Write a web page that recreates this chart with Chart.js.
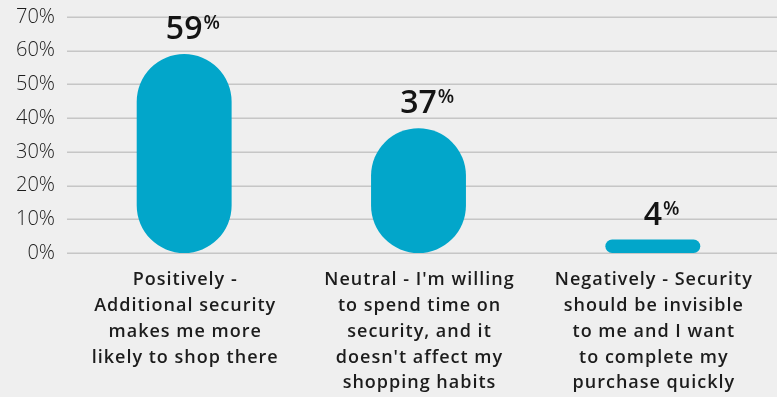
<!DOCTYPE html>
<html>
<head>
<meta charset="utf-8">
<script src="https://cdn.jsdelivr.net/npm/chart.js@4.4.1/dist/chart.umd.min.js"></script>
<style>
  html, body { margin: 0; padding: 0; background: #efefef; }
  #wrap { width: 777px; height: 397px; position: relative; }
</style>
</head>
<body>
<div id="wrap"><canvas id="securityChart"></canvas></div>
<script>
// Survey answers and their shares (%)
const categories = [
    ['Positively -', 'Additional security', 'makes me more', 'likely to shop there'],
    ['Neutral - I\'m willing', 'to spend time on', 'security, and it', 'doesn\'t affect my', 'shopping habits'],
    ['Negatively - Security', 'should be invisible', 'to me and I want', 'to complete my', 'purchase quickly']
];
const shares = [59, 37, 4];
const yMax = 70;
const yStep = 10;

const FONT = '"Open Sans", "Noto Sans", sans-serif';
const BAR_COLOR = '#02a6ca';
const TEXT_COLOR = '#1c1c1c';

// Horizontal grid lines running across to the right edge of the canvas
const gridLines = {
    id: 'gridLines',
    beforeDatasetsDraw(chart) {
        const { ctx, chartArea, scales } = chart;
        ctx.save();
        ctx.strokeStyle = '#c6c6c6';
        ctx.lineWidth = 1.5;
        for (let v = 0; v <= yMax; v += yStep) {
            const y = Math.round(scales.y.getPixelForValue(v)) + 0.25;
            ctx.beginPath();
            ctx.moveTo(chartArea.left, y);
            ctx.lineTo(chart.width, y);
            ctx.stroke();
        }
        ctx.restore();
    }
};

// Category names under the bars, drawn with a little extra tracking
const categoryLabels = {
    id: 'categoryLabels',
    afterDraw(chart) {
        const { ctx, chartArea, scales } = chart;
        ctx.save();
        ctx.font = '600 18px ' + FONT;
        ctx.letterSpacing = '1px';
        ctx.fillStyle = TEXT_COLOR;
        ctx.textAlign = 'center';
        ctx.textBaseline = 'middle';
        categories.forEach((lines, i) => {
            const x = scales.x.getPixelForTick(i) + 1;
            lines.forEach((line, j) => {
                ctx.fillText(line, x, chartArea.bottom + 27 + j * 25.8);
            });
        });
        ctx.restore();
    }
};

// Value labels above bars, with a small raised percent sign
const valueLabels = {
    id: 'valueLabels',
    afterDatasetsDraw(chart) {
        const { ctx } = chart;
        const meta = chart.getDatasetMeta(0);
        ctx.save();
        ctx.fillStyle = '#141414';
        ctx.textBaseline = 'alphabetic';
        ctx.textAlign = 'left';
        meta.data.forEach((bar, i) => {
            const num = String(shares[i]);
            const base = bar.y - 15;
            ctx.font = '600 32px ' + FONT;
            const w = ctx.measureText(num).width;
            ctx.fillText(num, bar.x - w / 2, base);
            ctx.font = '600 19px ' + FONT;
            ctx.fillText('%', bar.x + w / 2 + 1, base - 10);
        });
        ctx.restore();
    }
};

new Chart(document.getElementById('securityChart'), {
    type: 'bar',
    data: {
        labels: categories,
        datasets: [{
            data: shares,
            backgroundColor: BAR_COLOR,
            borderRadius: 100,
            borderSkipped: false,
            categoryPercentage: 1,
            barPercentage: 0.405
        }]
    },
    options: {
        responsive: true,
        maintainAspectRatio: false,
        animation: false,
        layout: { padding: { top: 17, right: 7, left: 0, bottom: 0 } },
        plugins: {
            legend: { display: false },
            tooltip: { enabled: false }
        },
        scales: {
            x: {
                grid: { display: false },
                border: { display: false },
                ticks: { display: false },
                afterFit(scale) { scale.height = 144; }
            },
            y: {
                min: 0,
                max: yMax,
                grid: { display: false },
                border: { display: false },
                ticks: {
                    stepSize: yStep,
                    color: TEXT_COLOR,
                    padding: 4,
                    font: { family: FONT, size: 20, weight: '300' },
                    callback: v => v + '%'
                },
                afterFit(scale) { scale.width = 67; }
            }
        }
    },
    plugins: [gridLines, valueLabels, categoryLabels]
});
</script>
</body>
</html>
